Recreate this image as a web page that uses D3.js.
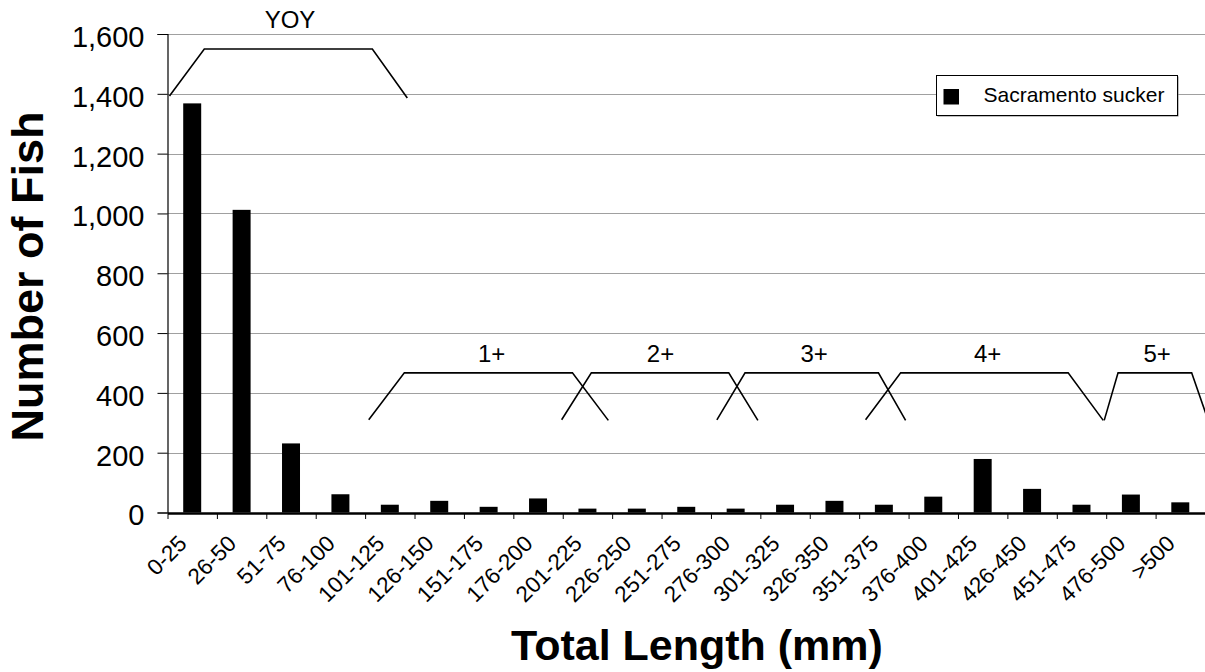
<!DOCTYPE html>
<html>
<head>
<meta charset="utf-8">
<script src="https://cdn.jsdelivr.net/npm/d3@7/dist/d3.min.js"></script>
<style>
  html, body { margin: 0; padding: 0; background: #fff; }
  svg { display: block; font-family: "Liberation Sans", Arial, Helvetica, sans-serif; }
</style>
</head>
<body>
<svg id="chart" width="1205" height="672"></svg>
<script>
// ---- data ----
const categories = ["0-25","26-50","51-75","76-100","101-125","126-150","151-175","176-200",
  "201-225","226-250","251-275","276-300","301-325","326-350","351-375","376-400",
  "401-425","426-450","451-475","476-500",">500"];
const seriesName = "Sacramento sucker";
const counts = [1368, 1012, 231, 61, 26, 39, 19, 47, 13, 13, 19, 13, 26, 39, 26, 53, 179, 79, 26, 60, 34];
const yTicks = [0, 200, 400, 600, 800, 1000, 1200, 1400, 1600];

// age-class brackets: points in (category-index position, fish count) units
const ageLabels = ["YOY", "1+", "2+", "3+", "4+", "5+"];
const ageLabelPos = [[2.48, 1621], [6.56, 504], [9.98, 504], [13.09, 504], [16.6, 504], [20.03, 504]];
const ageBrackets = [
  [[0.04, 1393], [0.745, 1550], [4.146, 1550], [4.854, 1386]],
  [[4.073, 310], [4.794, 467], [8.196, 467], [8.923, 308]],
  [[7.978, 310], [8.579, 467], [11.36, 467], [11.95, 308]],
  [[11.12, 310], [11.69, 467], [14.39, 467], [14.94, 308]],
  [[14.13, 310], [14.84, 467], [18.23, 467], [18.94, 308]],
  [[18.96, 308], [19.24, 467], [20.73, 467], [21.06, 310]]
];

// ---- layout ----
const svg = d3.select("#chart");
const plot = { left: 167.5, right: 1205, top: 34, bottom: 512.5 };

const y = d3.scaleLinear().domain([0, 1600]).range([plot.bottom, plot.top]);
const xBar = d3.scaleBand().domain(categories).range([plot.left, plot.right])
  .paddingInner(0.636).paddingOuter(0.318);
const xCat = d3.scaleBand().domain(categories).range([plot.left, plot.right]).padding(0);
const xIdx = d3.scaleLinear().domain([0, categories.length]).range([plot.left, plot.right]);

const FONT = "\"Liberation Sans\", Arial, Helvetica, sans-serif";

// gridlines
svg.append("g")
  .selectAll("line")
  .data(yTicks.filter(d => d > 0))
  .join("line")
  .attr("x1", plot.left).attr("x2", plot.right)
  .attr("y1", d => Math.round(y(d)) + 0.5).attr("y2", d => Math.round(y(d)) + 0.5)
  .attr("stroke", "#a0a0a0").attr("stroke-width", 1);

// bars
svg.append("g")
  .selectAll("rect")
  .data(counts)
  .join("rect")
  .attr("x", (d, i) => xBar(categories[i]))
  .attr("width", xBar.bandwidth())
  .attr("y", d => y(d))
  .attr("height", d => y(0) - y(d))
  .attr("fill", "#000");

// y axis
const yAxis = svg.append("g")
  .attr("transform", `translate(${plot.left},0)`)
  .call(d3.axisLeft(y).tickValues(yTicks).tickFormat(d3.format(",")).tickSize(10).tickPadding(13));
yAxis.select(".domain").attr("stroke", "#000").attr("stroke-width", 1.2);
yAxis.selectAll(".tick line").attr("stroke", "#000");
yAxis.selectAll(".tick text")
  .attr("font-family", FONT).attr("font-size", 29).attr("fill", "#000").attr("dy", "0.43em");

// x axis (ticks at category boundaries)
const xAxis = svg.append("g")
  .attr("transform", `translate(0,${plot.bottom + 0.5})`)
  .call(d3.axisBottom(xIdx).tickValues(d3.range(0, categories.length + 1)).tickFormat("").tickSize(6).tickSizeOuter(0));
xAxis.select(".domain").attr("stroke", "#000").attr("stroke-width", 2.5);
xAxis.selectAll(".tick line").attr("stroke", "#000");

// x category labels
svg.append("g")
  .selectAll("text")
  .data(categories)
  .join("text")
  .attr("transform", d => `translate(${xCat(d) + xCat.bandwidth() / 2 - 4},545) rotate(-45)`)
  .attr("text-anchor", "end")
  .attr("font-family", FONT).attr("font-size", 22.5).attr("fill", "#000")
  .text(d => d);

// age-class brackets
const line = d3.line().x(p => xIdx(p[0])).y(p => y(p[1]));
svg.append("defs").append("clipPath").attr("id", "clipR")
  .append("rect").attr("x", 0).attr("y", 0).attr("width", 1205).attr("height", 672);
svg.append("g").attr("clip-path", "url(#clipR)")
  .selectAll("path")
  .data(ageBrackets)
  .join("path")
  .attr("d", line)
  .attr("fill", "none").attr("stroke", "#000").attr("stroke-width", 1.6);
svg.append("g")
  .selectAll("text")
  .data(ageLabels)
  .join("text")
  .attr("x", (d, i) => xIdx(ageLabelPos[i][0]))
  .attr("y", (d, i) => y(ageLabelPos[i][1]))
  .attr("text-anchor", "middle")
  .attr("font-family", FONT).attr("font-size", 24).attr("fill", "#000")
  .text(d => d);

// legend
const lg = svg.append("g").attr("transform", "translate(936,75)");
lg.append("rect").attr("x", 1.5).attr("y", 1.5).attr("width", 241).attr("height", 40)
  .attr("fill", "#808080");
lg.append("rect").attr("x", 0.5).attr("y", 0.5).attr("width", 241).attr("height", 40)
  .attr("fill", "#fff").attr("stroke", "#000").attr("stroke-width", 1);
lg.append("rect").attr("x", 7.5).attr("y", 14).attr("width", 15.5).attr("height", 15.5).attr("fill", "#000");
lg.append("text").attr("x", 47.5).attr("y", 27)
  .attr("font-family", FONT).attr("font-size", 21).attr("fill", "#000")
  .text(seriesName);

// axis titles
svg.append("text")
  .attr("transform", "translate(43,276.5) rotate(-90)")
  .attr("text-anchor", "middle")
  .attr("font-family", FONT).attr("font-weight", "bold").attr("font-size", 45).attr("fill", "#000")
  .text("Number of Fish");
svg.append("text")
  .attr("x", 697).attr("y", 660)
  .attr("text-anchor", "middle")
  .attr("font-family", FONT).attr("font-weight", "bold").attr("font-size", 43).attr("fill", "#000")
  .text("Total Length (mm)");
</script>
</body>
</html>
